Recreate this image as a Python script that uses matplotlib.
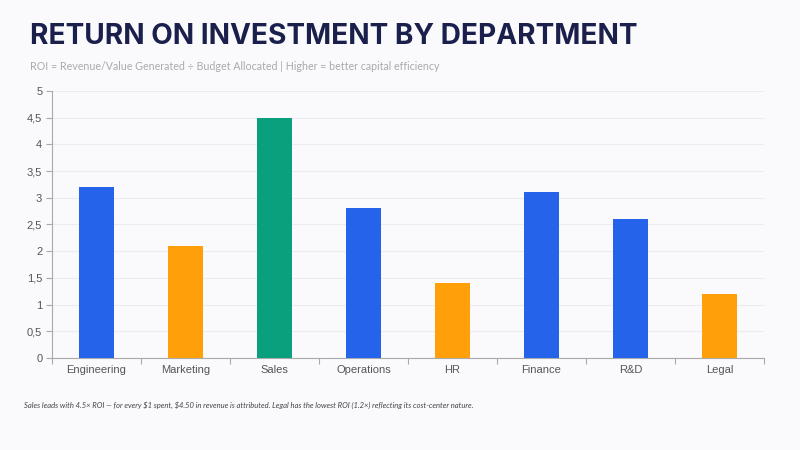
#!/usr/bin/env python3

import numpy as np
import matplotlib
matplotlib.use("Agg")
import matplotlib.pyplot as plt
from matplotlib.ticker import FuncFormatter, MultipleLocator

# --- data ---
departments = ["Engineering", "Marketing", "Sales", "Operations", "HR", "Finance", "R&D", "Legal"]
roi = [3.2, 2.1, 4.5, 2.8, 1.4, 3.1, 2.6, 1.2]
bar_colors = ["#2563EB", "#FF9F0A", "#0AA07E", "#2563EB", "#FF9F0A", "#2563EB", "#2563EB", "#FF9F0A"]

TITLE = "RETURN ON INVESTMENT BY DEPARTMENT"
SUBTITLE = "ROI = Revenue/Value Generated \u00f7 Budget Allocated | Higher = better capital efficiency"
NOTE = ("Sales leads with 4.5\u00d7 ROI \u2014 for every \\$1 spent, \\$4.50 in revenue is attributed. "
        "Legal has the lowest ROI (1.2\u00d7) reflecting its cost-center nature.")

BG = "#FAFAFD"

fig = plt.figure(figsize=(8, 4.5), dpi=100, facecolor=BG)
ax = fig.add_axes([0.065, 0.2044, 0.89, 0.5936], facecolor=BG)

x = np.arange(len(departments))
ax.bar(x, roi, width=0.4, color=bar_colors, zorder=3)

ax.set_xlim(-0.5, len(departments) - 0.5)
ax.set_ylim(0, 5)
ax.yaxis.set_major_locator(MultipleLocator(0.5))
ax.yaxis.set_major_formatter(FuncFormatter(lambda v, p: f"{v:g}".replace(".", ",")))
ax.grid(axis="y", color="#EBEBF0", linewidth=0.8, zorder=0)

ax.set_xticks(x)
ax.set_xticklabels(departments)
ax.set_xticks(np.arange(-0.5, len(departments)), minor=True)
ax.tick_params(axis="x", which="major", length=0, pad=5, labelsize=8, labelcolor="#555555")
ax.tick_params(axis="x", which="minor", length=4, color="#AAAAAA", width=0.8)
ax.tick_params(axis="y", length=4, color="#AAAAAA", width=0.8, labelsize=8, labelcolor="#555555", pad=3)
for lab in ax.get_xticklabels() + ax.get_yticklabels():
    lab.set_family("Liberation Sans")

for s in ["top", "right"]:
    ax.spines[s].set_visible(False)
for s in ["left", "bottom"]:
    ax.spines[s].set_color("#AAAAAA")
    ax.spines[s].set_linewidth(0.8)

fig.text(0.037, 0.918, TITLE, fontsize=20.2, fontweight="bold", color="#1B1F4B",
         family="Inter", va="center", ha="left")
fig.text(0.037, 0.853, SUBTITLE, fontsize=7.7, color="#AAAAAA",
         family="Lato", va="center", ha="left")
fig.text(0.03, 0.1, NOTE, fontsize=5.5, color="#444444", style="italic",
         family="Lato", va="center", ha="left")

fig.savefig("out.png", dpi=100, facecolor=BG)
